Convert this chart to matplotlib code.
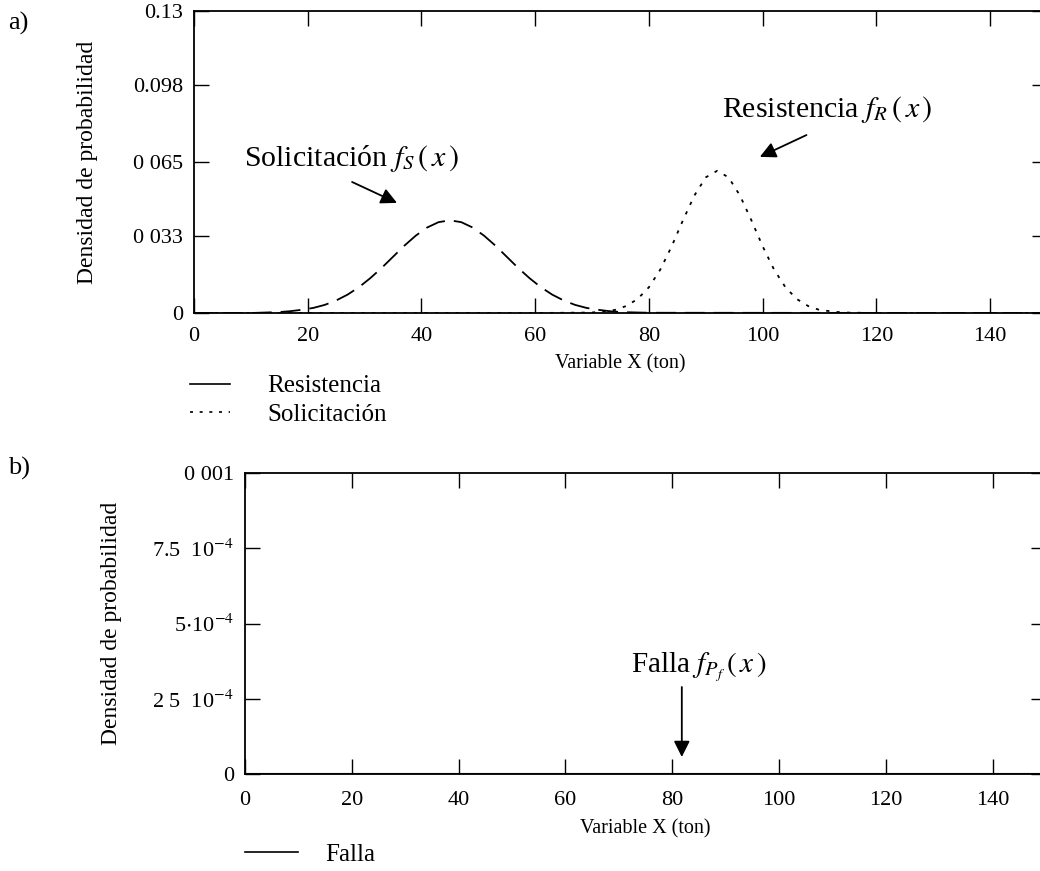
import matplotlib
matplotlib.use('Agg')
import matplotlib.pyplot as plt
from matplotlib.lines import Line2D

plt.rcParams.update({
    'font.family': 'serif',
    'font.serif': ['Liberation Serif', 'DejaVu Serif'],
    'mathtext.fontset': 'stix',
    'xtick.direction': 'in', 'ytick.direction': 'in',
    'xtick.top': True, 'ytick.right': True,
    'xtick.major.size': 11, 'ytick.major.size': 11,
    'xtick.major.width': 1.0, 'ytick.major.width': 1.0,
    'xtick.labelsize': 16, 'ytick.labelsize': 16,
    'axes.linewidth': 1.3,
})

# --- data ---
sol_x = [0, 10, 15, 17, 19, 21, 23, 25, 27, 29, 31, 33, 35, 37, 39, 41, 43, 45,
         47, 49, 51, 53, 55, 57, 59, 61, 63, 65, 67, 69, 71, 73, 75, 80, 150]
sol_y = [0, 0, 0.0004, 0.0008, 0.0014, 0.0022, 0.0035, 0.0054, 0.0079, 0.0111,
         0.0150, 0.0194, 0.0242, 0.0290, 0.0333, 0.0368, 0.0391, 0.0399,
         0.0391, 0.0368, 0.0333, 0.0290, 0.0242, 0.0194, 0.0150, 0.0111,
         0.0079, 0.0054, 0.0035, 0.0022, 0.0014, 0.0008, 0.0004, 0.0001, 0]

res_x = [0, 60, 70, 74, 76, 78, 80, 82, 84, 86, 88, 90, 92, 94, 96, 98, 100,
         102, 104, 106, 108, 110, 114, 120, 150]
res_y = [0, 0, 0.0002, 0.0013, 0.0030, 0.0060, 0.0111, 0.0187, 0.0287, 0.0400,
         0.0506, 0.0584, 0.0612, 0.0584, 0.0506, 0.0400, 0.0287, 0.0187,
         0.0111, 0.0060, 0.0030, 0.0013, 0.0002, 0, 0]

falla_x = [0, 20, 40, 60, 80, 100, 120, 150]
falla_y = [0, 0, 0, 0, 0, 0, 0, 0]

x_ticks = [0, 20, 40, 60, 80, 100, 120, 140]
top_yticks = [0, 0.033, 0.065, 0.098, 0.13]
top_ylabels = ['0', '0 033', '0 065', '0.098', '0.13']
bot_yticks = [0, 2.5e-4, 5e-4, 7.5e-4, 1e-3]
bot_ylabels = ['0', r'2 5  10$^{-4}$', r'5$\cdot$10$^{-4}$', r'7.5  10$^{-4}$', '0 001']

W, H = 1040, 871
fig = plt.figure(figsize=(W / 100, H / 100), dpi=100)


def px(x0, y0, x1, y1):
    return [x0 / W, 1 - y1 / H, (x1 - x0) / W, (y1 - y0) / H]


arrow = dict(arrowstyle='-|>', color='black', lw=1.3, mutation_scale=24,
             shrinkA=0, shrinkB=0)

# ── a) ──────────────────────────────────────────────────────────────────────
ax1 = fig.add_axes(px(194, 11, 1047, 313))
ax1.plot(sol_x, sol_y, color='black', lw=1.3, dashes=(11, 5))
ax1.plot(res_x, res_y, color='black', lw=1.3, dashes=(1.8, 4.0))
ax1.set_xlim(0, 150)
ax1.set_ylim(0, 0.13)
ax1.set_xticks(x_ticks)
ax1.set_yticks(top_yticks)
ax1.set_yticklabels(top_ylabels)
ax1.tick_params(axis='x', pad=10)
ax1.tick_params(axis='y', pad=8)
ax1.set_xlabel('Variable X (ton)', fontsize=14.5)
ax1.xaxis.set_label_coords(0.5, -0.135)
ax1.set_ylabel('Densidad de probabilidad', fontsize=17)
ax1.yaxis.set_label_coords(-0.113, 0.5)

ax1.text(27.6, 0.0667, r'Solicitación $f_{S}\,\left(\,x\,\right)$',
         ha='center', va='center', fontsize=21.5)
ax1.annotate('', xy=(35.7, 0.0474), xytext=(27.8, 0.0564), arrowprops=arrow)
ax1.text(111.4, 0.0874, r'Resistencia $f_{R}\,\left(\,x\,\right)$',
         ha='center', va='center', fontsize=21.5)
ax1.annotate('', xy=(99.5, 0.0672), xytext=(107.7, 0.0766), arrowprops=arrow)

# ── b) ──────────────────────────────────────────────────────────────────────
ax2 = fig.add_axes(px(245, 473, 1046, 774))
ax2.plot(falla_x, falla_y, color='black', lw=1.5)
ax2.set_xlim(0, 150)
ax2.set_ylim(0, 0.001)
ax2.set_xticks(x_ticks)
ax2.set_yticks(bot_yticks)
ax2.set_yticklabels(bot_ylabels)
ax2.tick_params(axis='x', pad=12)
ax2.tick_params(axis='y', pad=8)
ax2.set_xlabel('Variable X (ton)', fontsize=14.5)
ax2.xaxis.set_label_coords(0.5, -0.15)
ax2.set_ylabel('Densidad de probabilidad', fontsize=17)
ax2.yaxis.set_label_coords(-0.153, 0.5)

ax2.text(85.0, 0.000355, r'Falla $f_{P_f}\,\left(\,x\,\right)$',
         ha='center', va='center', fontsize=21)
ax2.annotate('', xy=(81.8, 0.0000565), xytext=(81.8, 0.000289), arrowprops=arrow)

# panel letters
fig.text(8 / W, 1 - 23 / H, 'a)', fontsize=19, va='center', ha='left')
fig.text(8 / W, 1 - 468 / H, 'b)', fontsize=19, va='center', ha='left')

# legends below each panel (drawn as in the source figure)
leg1 = [Line2D([], [], color='black', lw=1.2),
        Line2D([], [], color='black', lw=1.2, dashes=(1.8, 4.0))]
fig.legend(leg1, ['Resistencia', 'Solicitación'], loc='upper left',
           bbox_to_anchor=(190 / W, 1 - 375 / H), frameon=False, fontsize=18,
           handlelength=1.6, handletextpad=1.5, labelspacing=0.25,
           borderaxespad=0, borderpad=0)
leg2 = [Line2D([], [], color='black', lw=1.2)]
fig.legend(leg2, ['Falla'], loc='upper left',
           bbox_to_anchor=(245 / W, 1 - 843 / H), frameon=False, fontsize=18,
           handlelength=2.1, handletextpad=1.1, borderaxespad=0, borderpad=0)

fig.savefig('out.png', dpi=100)
plt.close(fig)
